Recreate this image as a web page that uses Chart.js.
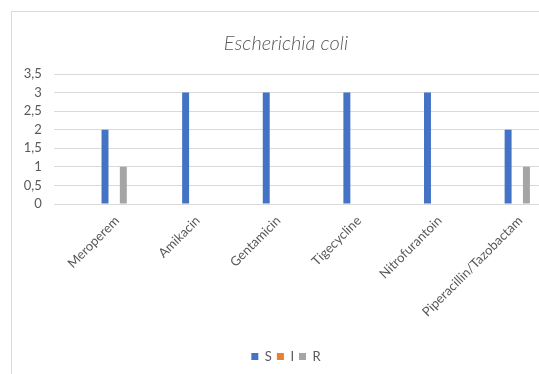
<!DOCTYPE html>
<html>
<head>
<meta charset="utf-8">
<script src="https://cdn.jsdelivr.net/npm/chart.js@4"></script>
<style>
  html, body { margin: 0; padding: 0; background: #fff; overflow: hidden; width: 539px; height: 374px; }
  #frame { position: absolute; left: 11px; top: 11px; width: 550px; height: 400px; border: 1px solid #d9d9d9; box-sizing: border-box; background: #fff; }
  #wrap { position: absolute; left: 0; top: 0; width: 548px; height: 362px; }
</style>
</head>
<body>
<div id="frame"><div id="wrap"><canvas id="c"></canvas></div></div>
<script>
// Antibiotic susceptibility counts for Escherichia coli
const antibiotics = ['Meroperem', 'Amikacin', 'Gentamicin', 'Tigecycline', 'Nitrofurantoin', 'Piperacillin/Tazobactam'];
const susceptible = [2, 3, 3, 3, 3, 2];
const intermediate = [0, 0, 0, 0, 0, 0];
const resistant = [1, 0, 0, 0, 0, 1];
const yTicks = [0, 0.5, 1, 1.5, 2, 2.5, 3, 3.5];

const textColor = '#595959';
const gridColor = '#d9d9d9';
const fontFamily = 'Lato, "Open Sans", sans-serif';

const toPoints = arr => arr.map((v, i) => ({ x: i, y: v }));

const barStyle = { categoryPercentage: 0.341, barPercentage: 0.76 };

new Chart(document.getElementById('c'), {
  type: 'bar',
  data: {
    datasets: [
      { label: 'S', data: toPoints(susceptible), backgroundColor: '#4472C4', ...barStyle },
      { label: 'I', data: toPoints(intermediate), backgroundColor: '#ED7D31', ...barStyle },
      { label: 'R', data: toPoints(resistant), backgroundColor: '#A5A5A5', ...barStyle }
    ]
  },
  options: {
    responsive: true,
    maintainAspectRatio: false,
    animation: false,
    layout: { padding: { left: 0, right: 0, top: 0, bottom: 1 } },
    plugins: {
      title: {
        display: true,
        text: 'Escherichia coli',
        color: textColor,
        font: { family: fontFamily, size: 20, style: 'italic', weight: 300 },
        padding: { top: 20, bottom: 18 }
      },
      legend: {
        position: 'bottom',
        labels: {
          color: textColor,
          font: { family: fontFamily, size: 13 },
          boxWidth: 7,
          boxHeight: 7,
          padding: 5
        }
      },
      tooltip: { enabled: false }
    },
    scales: {
      x: {
        type: 'linear',
        offset: false,
        min: -0.75,
        max: 5.53,
        grid: { display: false, offset: false },
        border: { display: false },
        afterBuildTicks: scale => { scale.ticks = antibiotics.map((_, i) => ({ value: i })); },
        afterFit: scale => { scale.height = 141; },
        ticks: {
          color: textColor,
          font: { family: fontFamily, size: 13 },
          minRotation: 45,
          maxRotation: 45,
          autoSkip: false,
          padding: 1,
          labelOffset: 3,
          callback: v => antibiotics[v]
        }
      },
      y: {
        min: 0,
        max: 3.5,
        afterBuildTicks: scale => { scale.ticks = yTicks.map(v => ({ value: v })); },
        afterFit: scale => { scale.width = 41.7; },
        grid: { color: gridColor, drawTicks: false },
        border: { display: false },
        ticks: {
          color: textColor,
          font: { family: fontFamily, size: 13 },
          autoSkip: false,
          padding: 12,
          callback: v => String(v).replace('.', ',')
        }
      }
    }
  }
});
</script>
</body>
</html>
